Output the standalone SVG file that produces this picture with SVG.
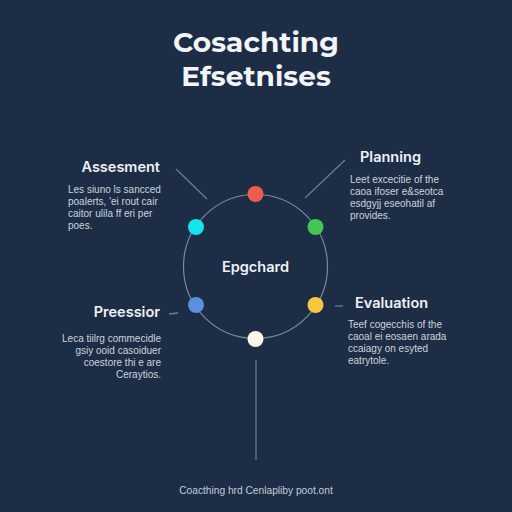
<svg xmlns="http://www.w3.org/2000/svg" width="512" height="512" viewBox="0 0 512 512">
<style>
.title{font-family:"Montserrat","Inter","Liberation Sans",sans-serif;font-weight:700;font-size:28px;fill:#f2f4f7;text-anchor:middle}
.head{font-family:"Inter","Liberation Sans",sans-serif;font-weight:600;font-size:14.5px;fill:#eef1f5}
.body{font-family:"Liberation Sans",sans-serif;font-size:10px;fill:#cdd4dd}
.conn{stroke:#6d7c92;stroke-width:1.3;fill:none}
.ring{stroke:#7a8aa0;stroke-width:1.2;fill:none}
</style>
<rect width="512" height="512" fill="#1c2d45"/>
<g id="title">
<text class="title" x="256" y="52">Cosachting</text>
<text class="title" x="256" y="86">Efsetnises</text>
</g>
<g id="connectors">
<circle class="ring" cx="255.5" cy="266.5" r="72"/>
<line class="conn" x1="176" y1="169" x2="207" y2="199"/>
<line class="conn" x1="345" y1="160" x2="305" y2="198"/>
<line class="conn" x1="169" y1="314" x2="178" y2="313"/>
<line class="conn" x1="335" y1="306" x2="343" y2="306"/>
<line class="conn" x1="256" y1="360" x2="256" y2="460" stroke="#7d8ea6"/>
</g>
<g id="dots">
<circle cx="255.5" cy="194" r="8" fill="#ef5b4c"/>
<circle cx="315.5" cy="227" r="8" fill="#43c84f"/>
<circle cx="315.5" cy="305" r="8" fill="#f7c744"/>
<circle cx="255.5" cy="339" r="8" fill="#fbf6e6"/>
<circle cx="196" cy="305" r="8" fill="#5b8fe0"/>
<circle cx="196" cy="227" r="8" fill="#16e4ec"/>
</g>
<g id="center">
<text x="255.5" y="272" font-family="Inter,'Liberation Sans',sans-serif" font-weight="600" font-size="14.5" fill="#eef1f5" text-anchor="middle">Epgchard</text>
</g>
<g id="assessment">
<text class="head" x="160" y="172" text-anchor="end">Assesment</text>
<text class="body" x="68" y="193">Les siuno ls sancced</text>
<text class="body" x="68" y="205">poalerts, 'ei rout cair</text>
<text class="body" x="68" y="217">caitor ulila ff eri per</text>
<text class="body" x="68" y="229">poes.</text>
</g>
<g id="planning">
<text class="head" x="360" y="162">Planning</text>
<text class="body" x="350" y="183">Leet excecitie of the</text>
<text class="body" x="350" y="195">caoa ifoser e&amp;seotca</text>
<text class="body" x="350" y="207">esdgyjj eseohatil af</text>
<text class="body" x="350" y="219">provides.</text>
</g>
<g id="preessior">
<text class="head" x="160" y="317" text-anchor="end">Preessior</text>
<text class="body" x="161" y="342" text-anchor="end">Leca tiilrg commecidle</text>
<text class="body" x="161" y="354" text-anchor="end">gsiy ooid casoiduer</text>
<text class="body" x="161" y="366" text-anchor="end">coestore thi e are</text>
<text class="body" x="161" y="378" text-anchor="end">Ceraytios.</text>
</g>
<g id="evaluation">
<text class="head" x="355" y="308">Evaluation</text>
<text class="body" x="348" y="328">Teef cogecchis of the</text>
<text class="body" x="348" y="340">caoal ei eosaen arada</text>
<text class="body" x="348" y="352">ccaiagy on esyted</text>
<text class="body" x="348" y="364">eatrytole.</text>
</g>
<g id="footer">
<text x="256" y="494" font-family="'Liberation Sans',sans-serif" font-size="10.2" fill="#c3ccd7" text-anchor="middle">Coacthing hrd Cenlapliby poot.ont</text>
</g>
</svg>
